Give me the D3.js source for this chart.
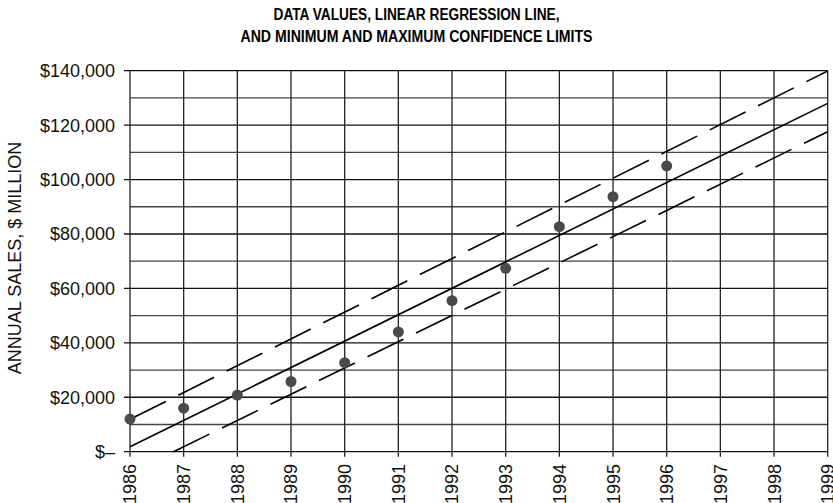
<!DOCTYPE html>
<html>
<head>
<meta charset="utf-8">
<script src="https://cdn.jsdelivr.net/npm/d3@7"></script>
<style>
  body { margin: 0; background: #fff; }
  svg { font-family: "Liberation Sans", Arial, sans-serif; }
</style>
</head>
<body>
<div id="chart"></div>
<script>
// Data
const years = [1986, 1987, 1988, 1989, 1990, 1991, 1992, 1993, 1994, 1995, 1996];
const sales = [12000, 16000, 20800, 25800, 32700, 44000, 55500, 67400, 82700, 93700, 105000];

// line endpoints [year, value]
const regression = [[1986, 1800], [1999, 128000]];
const upperLimit = [[1986, 11900], [1999, 139900]];
const lowerLimit = [[1986.81, 0], [1999, 117600]];

const xTicks = d3.range(1986, 2000);
const yTicks = [0, 20000, 40000, 60000, 80000, 100000, 120000, 140000];
const yGrid = d3.range(0, 150000, 10000);
const titleLines = ["DATA VALUES, LINEAR REGRESSION LINE,", "AND MINIMUM AND MAXIMUM CONFIDENCE LIMITS"];

const width = 833;
const height = 503;

const svg = d3.select("#chart")
  .append("svg")
  .attr("width", width)
  .attr("height", height);

const x = d3.scaleLinear().domain([1986, 1999]).range([130, 827.7]);
const y = d3.scaleLinear().domain([0, 140000]).range([451.7, 70.7]);

// Title (condensed bold)
const titleWidths = [286, 352];
svg.append("g")
  .selectAll("text")
  .data(titleLines)
  .join("text")
  .attr("x", 416.5)
  .attr("y", (d, i) => 20 + i * 22)
  .attr("text-anchor", "middle")
  .attr("font-weight", "bold")
  .attr("font-size", 16)
  .attr("textLength", (d, i) => titleWidths[i])
  .attr("lengthAdjust", "spacingAndGlyphs")
  .text(d => d);

// Horizontal grid
svg.append("g")
  .selectAll("line")
  .data(yGrid)
  .join("line")
  .attr("x1", d => yTicks.includes(d) ? 124 : x(1986))
  .attr("x2", x(1999))
  .attr("y1", d => y(d))
  .attr("y2", d => y(d))
  .attr("stroke", d => yTicks.includes(d) ? "#111" : "#444")
  .attr("stroke-width", 1.3);

// Vertical grid
svg.append("g")
  .selectAll("line")
  .data(xTicks)
  .join("line")
  .attr("x1", d => x(d))
  .attr("x2", d => x(d))
  .attr("y1", y(140000))
  .attr("y2", y(0) + 5)
  .attr("stroke", "#222")
  .attr("stroke-width", 1.3);

// Y labels
const fmt = d => d === 0 ? "$\u2013" : "$" + d3.format(",")(d);
svg.append("g")
  .selectAll("text")
  .data(yTicks)
  .join("text")
  .attr("x", 115)
  .attr("y", d => y(d))
  .attr("dy", "0.36em")
  .attr("text-anchor", "end")
  .attr("font-size", 18)
  .attr("fill", "#111")
  .text(fmt);

// X labels (rotated, running off the bottom like the reference)
svg.append("g")
  .selectAll("text")
  .data(xTicks)
  .join("text")
  .attr("transform", d => `translate(${x(d)},464) rotate(-90)`)
  .attr("dy", "0.36em")
  .attr("text-anchor", "end")
  .attr("font-size", 18)
  .attr("fill", "#111")
  .text(d => d);

// Y title
svg.append("text")
  .attr("transform", "translate(15,258) rotate(-90)")
  .attr("dy", "0.36em")
  .attr("text-anchor", "middle")
  .attr("font-size", 18)
  .attr("fill", "#111")
  .text("ANNUAL SALES, $ MILLION");

const line = d3.line()
  .x(d => x(d[0]))
  .y(d => y(d[1]));

svg.append("path")
  .datum(regression)
  .attr("d", line)
  .attr("fill", "none")
  .attr("stroke", "#000")
  .attr("stroke-width", 1.6);

svg.selectAll(".limit")
  .data([upperLimit, lowerLimit])
  .join("path")
  .attr("class", "limit")
  .attr("d", line)
  .attr("fill", "none")
  .attr("stroke", "#000")
  .attr("stroke-width", 1.6)
  .attr("stroke-dasharray", "40,14");

// Data points
svg.append("g")
  .selectAll("circle")
  .data(years)
  .join("circle")
  .attr("cx", d => x(d))
  .attr("cy", (d, i) => y(sales[i]))
  .attr("r", 5.5)
  .attr("fill", "#4a4a4a");
</script>
</body>
</html>
